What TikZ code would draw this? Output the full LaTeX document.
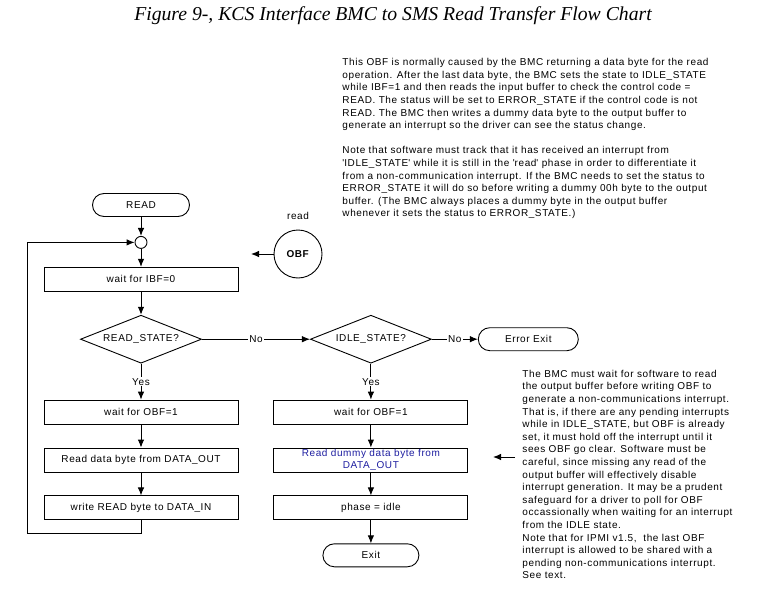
\documentclass[tikz,border=0pt]{standalone}
\usepackage{fontspec}
\setmainfont{Liberation Sans}[LetterSpace=6]
\newfontfamily\titlefont{Liberation Serif}
\usetikzlibrary{shapes, arrows.meta, calc, positioning}
\definecolor{dummyblue}{RGB}{30,30,160}
\tikzstyle{line} = [draw, -{Latex[length=8pt, width=6.5pt]}]
\tikzstyle{block} = [rectangle, draw, text centered, minimum width=194pt, minimum height=24pt, inner sep=1pt]
\tikzstyle{term} = [rectangle, draw, text centered, rounded corners=11.5pt, minimum width=97pt, minimum height=23pt]
\tikzstyle{decision} = [diamond, draw, text centered, inner sep=0pt, aspect=2.5, minimum width=121pt, minimum height=48pt]
\tikzstyle{junction} = [circle, draw, minimum size=12pt, inner sep=0pt]
\tikzstyle{conn} = [circle, draw, minimum size=48pt, inner sep=0pt]
\tikzstyle{lbl} = [fill=white, inner sep=1pt]
\tikzstyle{note} = [align=left, inner sep=0pt, anchor=north west, font=\fontsize{10}{12.6}\selectfont]

\begin{document}
\begin{tikzpicture}[x=1pt, y=-1pt, node distance=23pt, on grid=false, line width=0.9pt, font=\fontsize{10}{12.6}\selectfont]
\useasboundingbox (0,0) rectangle (778,599);
\node (title) at (393,16) {\titlefont\itshape\fontsize{19.7}{22}\selectfont Figure 9-, KCS Interface BMC to SMS Read Transfer Flow Chart};
% left column
\node [term] (read) at (141,205) {READ};
\node [junction, below=19pt of read] (join) {};
\node [block, below=18pt of join] (waitibf) {wait for IBF=0};
\node [decision, below=of waitibf] (readstate) {READ\_STATE?};
\node [block, below=36pt of readstate] (waitobf) {wait for OBF=1};
\node [block, below=of waitobf] (readdata) {Read data byte from DATA\_OUT};
\node [block, below=of readdata] (writeread) {write READ byte to DATA\_IN};
\coordinate (loopcorner) at (27,533);
% right column
\node [decision, right=108pt of readstate] (idlestate) {IDLE\_STATE?};
\node [term, minimum width=100pt, right=46pt of idlestate] (errorexit) {Error Exit};
\node [block, below=36pt of idlestate] (waitobftwo) {wait for OBF=1};
\node [block, below=of waitobftwo, text=dummyblue, align=center] (readdummy) {Read dummy data byte from\\DATA\_OUT};
\node [block, below=of readdummy] (phaseidle) {phase = idle};
\node [term, minimum width=96pt, below=of phaseidle] (exit) {Exit};
% OBF interrupt
\node [conn, label={[label distance=6pt]above:read}] (obf) at (298,254) {\textbf{OBF}};
\coordinate (obfin) at (251,254);
% notes
\node [note] (topnote) at (342,58) {This OBF is normally caused by the BMC returning a data byte for the read\\
operation. After the last data byte, the BMC sets the state to IDLE\_STATE\\
while IBF=1 and then reads the input buffer to check the control code =\\
READ. The status will be set to ERROR\_STATE if the control code is not\\
READ. The BMC then writes a dummy data byte to the output buffer to\\
generate an interrupt so the driver can see the status change.\\[12.6pt]
Note that software must track that it has received an interrupt from\\
\textquotesingle IDLE\_STATE\textquotesingle\ while it is still in the \textquotesingle read\textquotesingle\ phase in order to differentiate it\\
from a non-communication interrupt. If the BMC needs to set the status to\\
ERROR\_STATE it will do so before writing a dummy 00h byte to the output\\
buffer. (The BMC always places a dummy byte in the output buffer\\
whenever it sets the status to ERROR\_STATE.)};
\node [note] (sidenote) at (522,369.5) {The BMC must wait for software to read\\
the output buffer before writing OBF to\\
generate a non-communications interrupt.\\
That is, if there are any pending interrupts\\
while in IDLE\_STATE, but OBF is already\\
set, it must hold off the interrupt until it\\
sees OBF go clear. Software must be\\
careful, since missing any read of the\\
output buffer will effectively disable\\
interrupt generation. It may be a prudent\\
safeguard for a driver to poll for OBF\\
occassionally when waiting for an interrupt\\
from the IDLE state.\\
Note that for IPMI v1.5,\ \ the last OBF\\
interrupt is allowed to be shared with a\\
pending non-communications interrupt.\\
See text.};
\coordinate (notein) at (493,457);
% connectors
\path [line] (read) -- (join);
\path [line] (join) -- (waitibf);
\path [line] (waitibf) -- (readstate);
\path [line] (readstate) -- node [lbl] {Yes} (waitobf);
\path [line] (waitobf) -- (readdata);
\path [line] (readdata) -- (writeread);
\path [line] (writeread.south) |- (loopcorner) |- (join);
\path [line] (readstate) -- node [lbl] {No} (idlestate);
\path [line] (idlestate) -- node [lbl] {No} (errorexit);
\path [line] (idlestate) -- node [lbl] {Yes} (waitobftwo);
\path [line] (waitobftwo) -- (readdummy);
\path [line] (readdummy) -- (phaseidle);
\path [line] (phaseidle) -- (exit);
\path [line] (obf) -- (obfin);
\path [line] (sidenote.west |- notein) ++(-7,0) -- (notein);
\end{tikzpicture}
\end{document}
